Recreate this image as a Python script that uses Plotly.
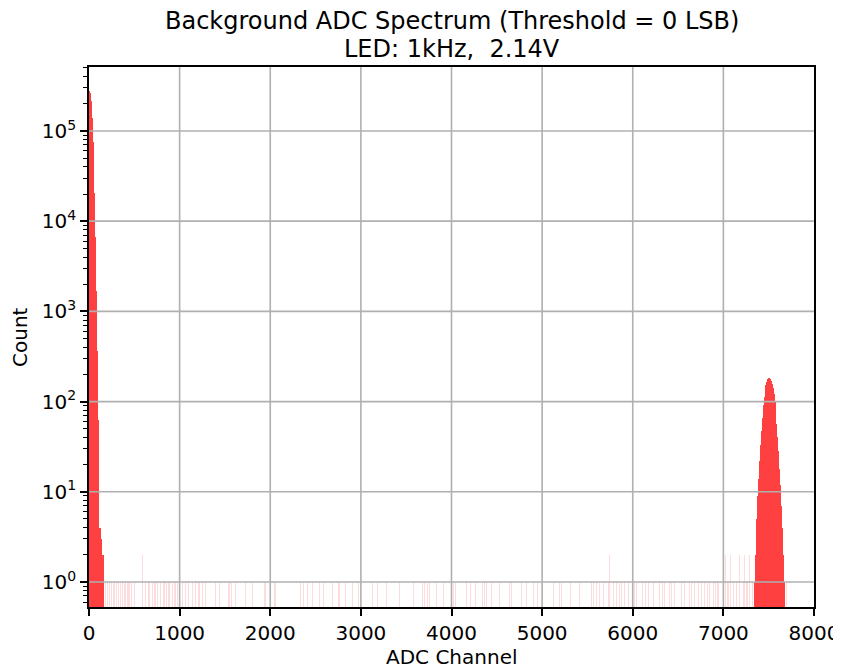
import plotly.graph_objects as go

# ---------------- data ----------------
# Pedestal near channel 0: counts per channel, 5-channel bins starting at 0
ped_start = 0
ped_binw = 5
ped_counts = [268000, 275000, 262000, 244000, 213000, 180000, 140000, 107000,
              76000, 52000, 33000, 20500, 12000, 6600, 3400, 1700, 800, 360,
              155, 63, 24, 9, 4, 3, 4, 2, 3, 2, 2, 1, 2, 1, 1]

# LED peak around channel 7500: counts per channel, 10-channel bins from 7340
peak_start = 7340
peak_binw = 10
peak_counts = [1, 2, 3, 5, 9, 14, 22, 33, 47, 66, 92, 112, 134, 152, 166, 176,
               182, 178, 170, 158, 140, 120, 100, 78, 57, 40, 28, 18, 12, 7, 4, 2, 1]

# Sparse single channels with a few counts (background)
sparse_channels = [184, 202, 228, 250, 276, 302, 324, 349, 368, 397, 423, 441, 471,
                   497, 588, 625, 662, 699, 728, 754, 791, 828, 853, 883, 920, 949,
                   975, 1030, 1067, 1103, 1140, 1177, 1214, 1250, 1287, 1398, 1442,
                   1545, 1574, 1618, 1729, 1802, 1942, 2052, 2335, 2364, 2408, 2467,
                   2541, 2592, 2688, 2750, 2768, 2835, 2908, 2971, 3129, 3180, 3283,
                   3430, 3577, 3680, 3706, 3732, 3761, 3835, 3908, 4018, 4048, 4166,
                   4210, 4269, 4342, 4368, 4387, 4442, 4533, 4636, 4662, 4773, 4828,
                   4901, 4945, 5122, 5195, 5214, 5313, 5416, 5545, 5570, 5600, 5636,
                   5673, 5728, 5747, 5783, 5820, 5850, 5875, 5912, 5949, 6022, 6041,
                   6107, 6144, 6169, 6232, 6298, 6328, 6353, 6408, 6427, 6463, 6537,
                   6574, 6629, 6648, 6684, 6721, 6758, 6795, 6820, 6850, 6886, 6916,
                   6941, 7026, 7051, 7078, 7107, 7144, 7181, 7217, 7236, 7261, 7291,
                   7321, 7677, 7696]
sparse_counts = [1] * len(sparse_channels)
for ch in (588, 5747, 7026, 7078, 7181, 7236, 7291):
    sparse_counts[sparse_channels.index(ch)] = 2

x_ticks = [0, 1000, 2000, 3000, 4000, 5000, 6000, 7000, 8000]
y_ticks = [1, 10, 100, 1000, 10000, 100000]
y_ticktext = ["10<sup>0</sup>", "10<sup>1</sup>", "10<sup>2</sup>",
              "10<sup>3</sup>", "10<sup>4</sup>", "10<sup>5</sup>"]
x_range = [0, 8000]
y_range_log = [-0.277, 5.709]

title_line1 = "Background ADC Spectrum (Threshold = 0 LSB)"
title_line2 = "LED: 1kHz,  2.14V"
x_label = "ADC Channel"
y_label = "Count"

# ---------------- figure ----------------
RED = "#ff4040"
FAINT = "#fcdcdc"
GRID = "#b0b0b0"
FONT = "DejaVu Sans"

ped_x = [ped_start + ped_binw * (i + 0.5) for i in range(len(ped_counts))]
peak_x = [peak_start + peak_binw * (i + 0.5) for i in range(len(peak_counts))]

fig = go.Figure()
fig.add_trace(go.Bar(x=sparse_channels, y=sparse_counts, width=1,
                     marker=dict(color=FAINT, line=dict(width=0)),
                     showlegend=False, hoverinfo="skip"))
fig.add_trace(go.Bar(x=ped_x, y=ped_counts, width=ped_binw,
                     marker=dict(color=RED, line=dict(width=0)),
                     showlegend=False))
fig.add_trace(go.Bar(x=peak_x, y=peak_counts, width=peak_binw,
                     marker=dict(color=RED, line=dict(width=0)),
                     showlegend=False))

# grid lines drawn on top of the bars (as in the reference)
gx, gy = [], []
for xv in x_ticks[1:-1]:
    gx += [xv, xv, None]
    gy += [10 ** y_range_log[0], 10 ** y_range_log[1], None]
for yv in y_ticks:
    gx += [x_range[0], x_range[1], None]
    gy += [yv, yv, None]
fig.add_trace(go.Scatter(x=gx, y=gy, mode="lines",
                         line=dict(color=GRID, width=1.6),
                         showlegend=False, hoverinfo="skip"))

minor_vals = []
for d in range(-1, 6):
    for m in range(2, 10):
        v = m * 10 ** d
        if 10 ** y_range_log[0] <= v <= 10 ** y_range_log[1]:
            minor_vals.append(v)

# page body has an 8px margin: figure is shifted by (8, 8)
PLOT_H = 540
PLOT_W = 725
fig.update_layout(
    width=833, height=661,
    margin=dict(l=81, r=27, t=59, b=62, autoexpand=False),
    paper_bgcolor="white", plot_bgcolor="white",
    barmode="overlay", bargap=0,
    font=dict(family=FONT, size=20, color="black"),
    xaxis=dict(range=x_range, tickvals=x_ticks, showgrid=False, zeroline=False,
               automargin=False,
               showline=True, mirror=True, linecolor="black", linewidth=1.6,
               ticks="outside", ticklen=7, tickwidth=1.6, tickcolor="black",
               tickfont=dict(size=20, family=FONT)),
    yaxis=dict(type="log", range=y_range_log, tickvals=y_ticks, ticktext=y_ticktext,
               showgrid=False, zeroline=False, automargin=False,
               showline=True, mirror=True, linecolor="black", linewidth=1.6,
               ticks="outside", ticklen=7, tickwidth=1.6, tickcolor="black",
               tickfont=dict(size=20, family=FONT),
               minor=dict(tickvals=minor_vals, ticks="outside", ticklen=4,
                          tickwidth=1.2, tickcolor="black", showgrid=False)),
    annotations=[
        dict(text=title_line1, xref="paper", yref="paper", x=0.5, y=1 + 46 / PLOT_H,
             xanchor="center", yanchor="middle", showarrow=False,
             font=dict(size=24, family=FONT)),
        dict(text=title_line2, xref="paper", yref="paper", x=0.5, y=1 + 18 / PLOT_H,
             xanchor="center", yanchor="middle", showarrow=False,
             font=dict(size=24, family=FONT)),
        dict(text=x_label, xref="paper", yref="paper", x=0.5, y=-50 / PLOT_H,
             xanchor="center", yanchor="middle", showarrow=False,
             font=dict(size=20, family=FONT)),
        dict(text=y_label, xref="paper", yref="paper", x=-69 / PLOT_W, y=0.5,
             xanchor="center", yanchor="middle", showarrow=False, textangle=-90,
             font=dict(size=20, family=FONT)),
    ],
)

fig.write_html("out.html")
